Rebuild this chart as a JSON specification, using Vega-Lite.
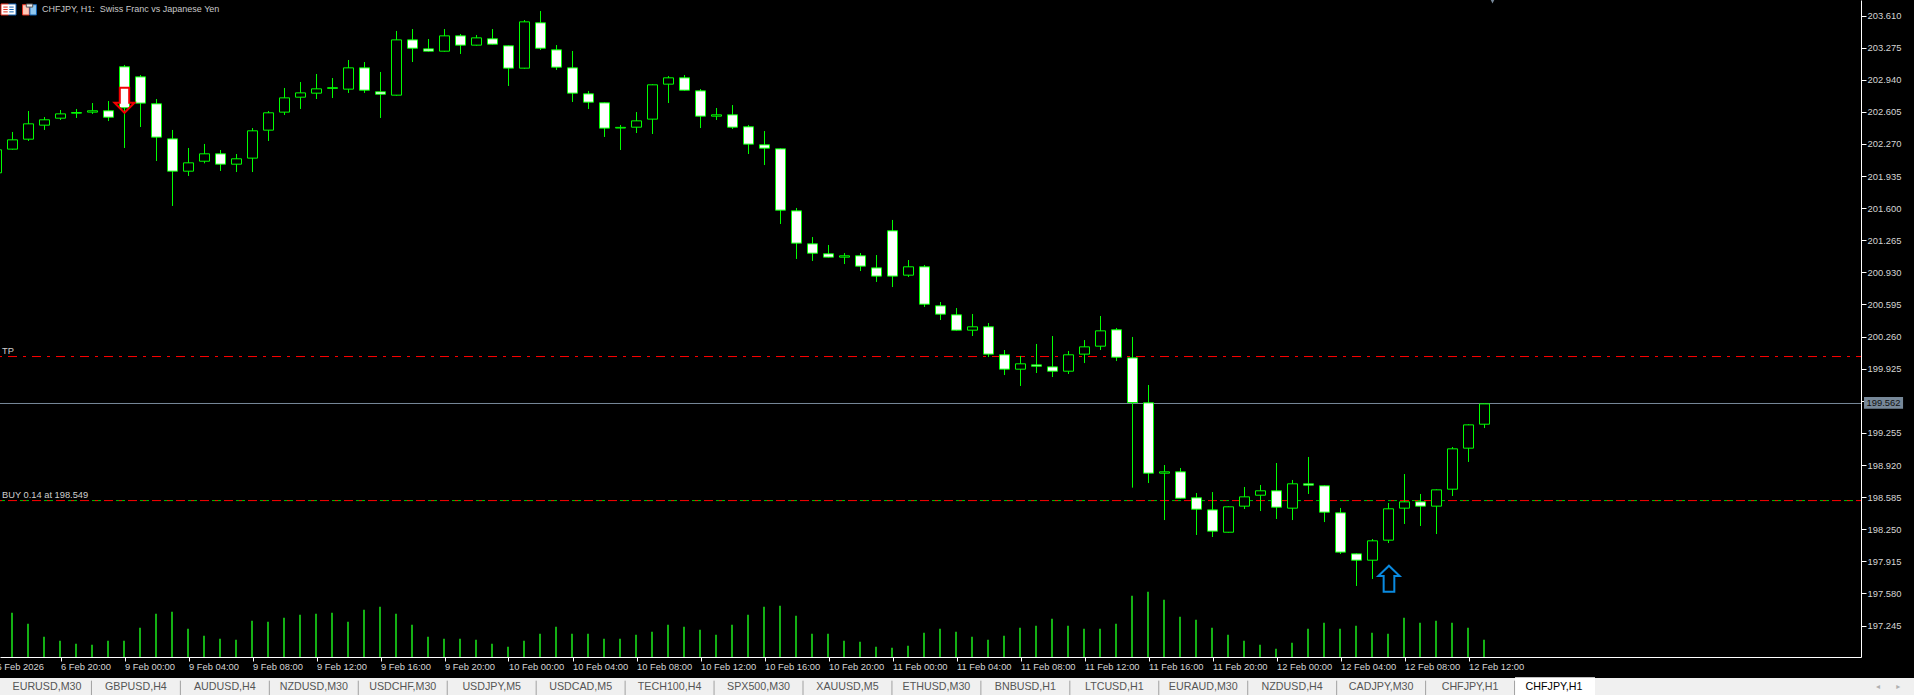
{"$schema":"https://vega.github.io/schema/vega-lite/v6.json","width":1861,"height":657,"autosize":"none","padding":{"left":0,"top":0,"right":53,"bottom":38},"background":"#000000","config":{"view":{"stroke":null},"font":"Liberation Sans"},
"datasets":{"candles":[
{"bar":-1,"open":201.969,"high":202.214,"low":201.963,"close":202.209},
{"bar":0,"open":202.216,"high":202.395,"low":202.21,"close":202.313,"vol":133},
{"bar":1,"open":202.32,"high":202.614,"low":202.301,"close":202.48,"vol":100},
{"bar":2,"open":202.466,"high":202.551,"low":202.416,"close":202.522,"vol":61},
{"bar":3,"open":202.539,"high":202.624,"low":202.52,"close":202.584,"vol":49},
{"bar":4,"open":202.591,"high":202.635,"low":202.541,"close":202.598,"vol":40},
{"bar":5,"open":202.602,"high":202.697,"low":202.583,"close":202.616,"vol":37},
{"bar":6,"open":202.616,"high":202.718,"low":202.509,"close":202.549,"vol":49},
{"bar":7,"open":203.075,"high":203.094,"low":202.228,"close":202.647,"vol":49},
{"bar":8,"open":202.97,"high":202.989,"low":202.447,"close":202.696,"vol":88},
{"bar":9,"open":202.689,"high":202.739,"low":202.092,"close":202.341,"vol":130},
{"bar":10,"open":202.323,"high":202.416,"low":201.623,"close":201.986,"vol":136},
{"bar":11,"open":201.986,"high":202.228,"low":201.936,"close":202.073,"vol":85},
{"bar":12,"open":202.09,"high":202.27,"low":202.068,"close":202.167,"vol":64},
{"bar":13,"open":202.167,"high":202.207,"low":201.988,"close":202.059,"vol":55},
{"bar":14,"open":202.059,"high":202.165,"low":201.977,"close":202.115,"vol":52},
{"bar":15,"open":202.122,"high":202.436,"low":201.977,"close":202.407,"vol":109},
{"bar":16,"open":202.414,"high":202.614,"low":202.301,"close":202.595,"vol":106},
{"bar":17,"open":202.602,"high":202.854,"low":202.572,"close":202.751,"vol":118},
{"bar":18,"open":202.758,"high":202.916,"low":202.635,"close":202.803,"vol":127},
{"bar":19,"open":202.8,"high":203.0,"low":202.739,"close":202.845,"vol":130},
{"bar":20,"open":202.85,"high":202.958,"low":202.749,"close":202.857,"vol":133},
{"bar":21,"open":202.842,"high":203.146,"low":202.802,"close":203.064,"vol":106},
{"bar":22,"open":203.064,"high":203.125,"low":202.802,"close":202.831,"vol":142},
{"bar":23,"open":202.814,"high":203.021,"low":202.541,"close":202.789,"vol":151},
{"bar":24,"open":202.779,"high":203.449,"low":202.774,"close":203.356,"vol":130},
{"bar":25,"open":203.356,"high":203.469,"low":203.125,"close":203.269,"vol":97},
{"bar":26,"open":203.262,"high":203.365,"low":203.233,"close":203.238,"vol":61},
{"bar":27,"open":203.238,"high":203.469,"low":203.233,"close":203.398,"vol":55},
{"bar":28,"open":203.398,"high":203.417,"low":203.209,"close":203.301,"vol":55},
{"bar":29,"open":203.301,"high":203.407,"low":203.296,"close":203.377,"vol":52},
{"bar":30,"open":203.367,"high":203.469,"low":203.306,"close":203.311,"vol":40},
{"bar":31,"open":203.294,"high":203.299,"low":202.875,"close":203.061,"vol":31},
{"bar":32,"open":203.061,"high":203.563,"low":203.056,"close":203.544,"vol":49},
{"bar":33,"open":203.534,"high":203.657,"low":203.25,"close":203.269,"vol":70},
{"bar":34,"open":203.252,"high":203.302,"low":203.042,"close":203.071,"vol":91},
{"bar":35,"open":203.064,"high":203.24,"low":202.708,"close":202.8,"vol":70},
{"bar":36,"open":202.793,"high":202.823,"low":202.635,"close":202.706,"vol":70},
{"bar":37,"open":202.699,"high":202.704,"low":202.343,"close":202.435,"vol":55},
{"bar":38,"open":202.436,"high":202.468,"low":202.207,"close":202.443,"vol":55},
{"bar":39,"open":202.445,"high":202.603,"low":202.384,"close":202.511,"vol":67},
{"bar":40,"open":202.529,"high":202.892,"low":202.374,"close":202.887,"vol":76},
{"bar":41,"open":202.894,"high":202.979,"low":202.697,"close":202.96,"vol":97},
{"bar":42,"open":202.96,"high":202.989,"low":202.826,"close":202.831,"vol":91},
{"bar":43,"open":202.824,"high":202.843,"low":202.436,"close":202.56,"vol":82},
{"bar":44,"open":202.56,"high":202.645,"low":202.52,"close":202.574,"vol":67},
{"bar":45,"open":202.574,"high":202.676,"low":202.426,"close":202.445,"vol":97},
{"bar":46,"open":202.449,"high":202.468,"low":202.165,"close":202.268,"vol":127},
{"bar":47,"open":202.261,"high":202.405,"low":202.05,"close":202.226,"vol":151},
{"bar":48,"open":202.219,"high":202.224,"low":201.435,"close":201.579,"vol":154},
{"bar":49,"open":201.572,"high":201.602,"low":201.07,"close":201.235,"vol":124},
{"bar":50,"open":201.228,"high":201.299,"low":201.049,"close":201.13,"vol":70},
{"bar":51,"open":201.124,"high":201.216,"low":201.084,"close":201.089,"vol":70},
{"bar":52,"open":201.089,"high":201.132,"low":201.017,"close":201.103,"vol":49},
{"bar":53,"open":201.103,"high":201.132,"low":200.944,"close":200.995,"vol":46},
{"bar":54,"open":200.977,"high":201.111,"low":200.83,"close":200.891,"vol":31},
{"bar":55,"open":201.364,"high":201.477,"low":200.777,"close":200.891,"vol":28},
{"bar":56,"open":200.901,"high":201.059,"low":200.882,"close":200.988,"vol":34},
{"bar":57,"open":200.988,"high":201.007,"low":200.569,"close":200.598,"vol":73},
{"bar":58,"open":200.581,"high":200.621,"low":200.433,"close":200.494,"vol":85},
{"bar":59,"open":200.487,"high":200.558,"low":200.322,"close":200.327,"vol":76},
{"bar":60,"open":200.327,"high":200.496,"low":200.266,"close":200.362,"vol":61},
{"bar":61,"open":200.362,"high":200.402,"low":200.047,"close":200.077,"vol":52},
{"bar":62,"open":200.07,"high":200.12,"low":199.859,"close":199.92,"vol":64},
{"bar":63,"open":199.92,"high":200.058,"low":199.745,"close":199.976,"vol":88},
{"bar":64,"open":199.965,"high":200.183,"low":199.88,"close":199.951,"vol":94},
{"bar":65,"open":199.944,"high":200.266,"low":199.838,"close":199.899,"vol":115},
{"bar":66,"open":199.899,"high":200.11,"low":199.87,"close":200.07,"vol":94},
{"bar":67,"open":200.077,"high":200.224,"low":199.984,"close":200.153,"vol":85},
{"bar":68,"open":200.16,"high":200.475,"low":200.12,"close":200.32,"vol":85},
{"bar":69,"open":200.331,"high":200.35,"low":200.005,"close":200.045,"vol":100},
{"bar":70,"open":200.038,"high":200.256,"low":198.684,"close":199.572,"vol":184},
{"bar":71,"open":199.569,"high":199.755,"low":198.732,"close":198.835,"vol":196},
{"bar":72,"open":198.835,"high":198.92,"low":198.346,"close":198.849,"vol":172},
{"bar":73,"open":198.849,"high":198.889,"low":198.569,"close":198.574,"vol":121},
{"bar":74,"open":198.578,"high":198.628,"low":198.19,"close":198.459,"vol":112},
{"bar":75,"open":198.452,"high":198.638,"low":198.169,"close":198.23,"vol":88},
{"bar":76,"open":198.219,"high":198.489,"low":198.214,"close":198.484,"vol":67},
{"bar":77,"open":198.491,"high":198.691,"low":198.461,"close":198.588,"vol":49},
{"bar":78,"open":198.605,"high":198.712,"low":198.44,"close":198.651,"vol":37},
{"bar":79,"open":198.651,"high":198.941,"low":198.357,"close":198.48,"vol":25},
{"bar":80,"open":198.47,"high":198.764,"low":198.346,"close":198.724,"vol":43},
{"bar":81,"open":198.724,"high":199.004,"low":198.618,"close":198.71,"vol":85},
{"bar":82,"open":198.703,"high":198.708,"low":198.325,"close":198.428,"vol":103},
{"bar":83,"open":198.421,"high":198.472,"low":197.992,"close":198.011,"vol":85},
{"bar":84,"open":197.993,"high":197.999,"low":197.658,"close":197.927,"vol":94},
{"bar":85,"open":197.927,"high":198.148,"low":197.731,"close":198.129,"vol":73},
{"bar":86,"open":198.136,"high":198.524,"low":198.106,"close":198.463,"vol":70},
{"bar":87,"open":198.47,"high":198.826,"low":198.305,"close":198.536,"vol":118},
{"bar":88,"open":198.536,"high":198.618,"low":198.284,"close":198.491,"vol":103},
{"bar":89,"open":198.491,"high":198.666,"low":198.2,"close":198.661,"vol":109},
{"bar":90,"open":198.668,"high":199.108,"low":198.597,"close":199.089,"vol":103},
{"bar":91,"open":199.096,"high":199.345,"low":198.952,"close":199.339,"vol":88},
{"bar":92,"open":199.346,"high":199.564,"low":199.306,"close":199.558,"vol":52}
],
"tabs":[
{"order":1,"tab":"EURUSD,M30"},{"order":2,"tab":"GBPUSD,H4"},{"order":3,"tab":"AUDUSD,H4"},{"order":4,"tab":"NZDUSD,M30"},{"order":5,"tab":"USDCHF,M30"},{"order":6,"tab":"USDJPY,M5"},{"order":7,"tab":"USDCAD,M5"},{"order":8,"tab":"TECH100,H4"},{"order":9,"tab":"SPX500,M30"},{"order":10,"tab":"XAUUSD,M5"},{"order":11,"tab":"ETHUSD,M30"},{"order":12,"tab":"BNBUSD,H1"},{"order":13,"tab":"LTCUSD,H1"},{"order":14,"tab":"EURAUD,M30"},{"order":15,"tab":"NZDUSD,H4"},{"order":16,"tab":"CADJPY,M30"},{"order":17,"tab":"CHFJPY,H1"},{"order":18,"tab":"CHFJPY,H1","active":true}
]},
"layer":[
{"data":{"name":"candles"},"mark":{"type":"bar","size":2,"orient":"vertical","color":"#14b014","xOffset":-0.5},
 "encoding":{"x":{"field":"bar","type":"quantitative","scale":{"domain":[-0.78125,115.53125],"nice":false,"zero":false,"padding":0},"axis":null},
 "y":{"field":"vol","type":"quantitative","scale":{"domain":[0,1971],"nice":false},"axis":null}}},
{"data":{"values":[{"price":199.562}]},"mark":{"type":"rule","color":"#778899","strokeWidth":1},"encoding":{"y":{"field":"price","type":"quantitative","scale":{"domain":[196.917,203.772],"nice":false,"zero":false},"axis":null}}},
{"data":{"values":[{"price":200.052}]},"mark":{"type":"rule","color":"#ff0000","strokeWidth":1,"strokeDash":[9,6,3,6],"strokeDashOffset":4},"encoding":{"y":{"field":"price","type":"quantitative","scale":{"domain":[196.917,203.772],"nice":false,"zero":false},"axis":null}}},
{"data":{"values":[{"price":198.549}]},"mark":{"type":"rule","color":"#00c000","strokeWidth":1,"strokeDash":[9,15],"strokeDashOffset":16},"encoding":{"y":{"field":"price","type":"quantitative","scale":{"domain":[196.917,203.772],"nice":false,"zero":false},"axis":null}}},
{"data":{"values":[{"price":198.549}]},"mark":{"type":"rule","color":"#ff0000","strokeWidth":1,"strokeDash":[9,6,3,6],"strokeDashOffset":4},"encoding":{"y":{"field":"price","type":"quantitative","scale":{"domain":[196.917,203.772],"nice":false,"zero":false},"axis":null}}},
{"data":{"name":"candles"},"mark":{"type":"rule","color":"#00ff00","strokeWidth":1},"encoding":{
  "x":{"field":"bar","type":"quantitative","scale":{"domain":[-0.78125,115.53125],"nice":false,"zero":false},
   "axis":{"title":null,"orient":"bottom","grid":false,"values":[3,7,11,15,19,23,27,31,35,39,43,47,51,55,59,63,67,71,75,79,83,87,91],
     "labelExpr":"['6 Feb 2026','6 Feb 20:00','9 Feb 00:00','9 Feb 04:00','9 Feb 08:00','9 Feb 12:00','9 Feb 16:00','9 Feb 20:00','10 Feb 00:00','10 Feb 04:00','10 Feb 08:00','10 Feb 12:00','10 Feb 16:00','10 Feb 20:00','11 Feb 00:00','11 Feb 04:00','11 Feb 08:00','11 Feb 12:00','11 Feb 16:00','11 Feb 20:00','12 Feb 00:00','12 Feb 04:00','12 Feb 08:00','12 Feb 12:00'][(datum.value+1)/4]",
     "labelAlign":"left","labelBaseline":"top","labelColor":"#d4d4d4","labelFont":"Liberation Sans","labelFontSize":9.4,"labelPadding":1,"labelOverlap":false,"labelFlush":false,"labelBound":false,"tickColor":"#ffffff","tickSize":4,"domainColor":"#ffffff","domainWidth":1}},
  "y":{"field":"high","type":"quantitative","scale":{"domain":[196.917,203.772],"nice":false,"zero":false},
   "axis":{"title":null,"orient":"right","grid":false,"values":[203.61,203.275,202.94,202.605,202.27,201.935,201.6,201.265,200.93,200.595,200.26,199.925,199.59,199.255,198.92,198.585,198.25,197.915,197.58,197.245],"format":".3f",
     "labelColor":"#d4d4d4","labelFont":"Liberation Sans","labelFontSize":9.4,"labelPadding":1,"labelOverlap":false,"labelFlush":false,"labelBound":false,"tickColor":"#ffffff","tickSize":5,"domainColor":"#ffffff","domainWidth":1}},
  "y2":{"field":"low"}}},
{"data":{"name":"candles"},"mark":{"type":"bar","size":10,"orient":"vertical","stroke":"#00ff00","strokeWidth":1},
 "encoding":{"x":{"field":"bar","type":"quantitative","scale":{"domain":[-0.78125,115.53125],"nice":false,"zero":false,"padding":0},"axis":null},
 "y":{"field":"open","type":"quantitative","scale":{"domain":[196.917,203.772],"nice":false,"zero":false},"axis":null},"y2":{"field":"close"},"fill":{"condition":{"test":"datum.close<datum.open","value":"#ffffff"},"value":"#000000"}}},
{"data":{"values":[{"label":"TP","price":200.052},{"label":"BUY 0.14 at 198.549","price":198.549}]},"mark":{"type":"text","align":"left","baseline":"middle","dy":-6,"color":"#cfcfcf","font":"Liberation Sans","fontSize":9.3},
 "encoding":{"x":{"datum":-0.656,"type":"quantitative","scale":{"domain":[-0.78125,115.53125],"nice":false,"zero":false},"axis":null},"y":{"field":"price","type":"quantitative","scale":{"domain":[196.917,203.772],"nice":false,"zero":false},"axis":null},"text":{"field":"label"}}},
{"data":{"values":[{"label":"CHFJPY, H1:\u00a0 Swiss Franc vs Japanese Yen","price":203.678}]},"mark":{"type":"text","align":"left","baseline":"middle","color":"#c8c8c8","font":"Liberation Sans","fontSize":9},
 "encoding":{"x":{"datum":1.84,"type":"quantitative","scale":{"domain":[-0.78125,115.53125],"nice":false,"zero":false},"axis":null},"y":{"field":"price","type":"quantitative","scale":{"domain":[196.917,203.772],"nice":false,"zero":false},"axis":null},"text":{"field":"label"}}},
{"data":{"values":[{"label":"6 Feb 2026","bar":-1,"price":196.816}]},"mark":{"type":"text","align":"left","baseline":"middle","color":"#d4d4d4","font":"Liberation Sans","fontSize":9.4},
 "encoding":{"x":{"field":"bar","type":"quantitative","scale":{"domain":[-0.78125,115.53125],"nice":false,"zero":false},"axis":null},"y":{"field":"price","type":"quantitative","scale":{"domain":[196.917,203.772],"nice":false,"zero":false},"axis":null},"text":{"field":"label"}}},
{"data":{"values":[{"bar":7,"price":202.726}]},"mark":{"type":"point","shape":"M-.376,-1 L.376,-1 L.376,.2 L.8,.2 L0,1 L-.8,.2 L-.376,.2 Z","size":625,"filled":false,"stroke":"#f00000","strokeWidth":2,"opacity":1},"encoding":{"x":{"field":"bar","type":"quantitative","scale":{"domain":[-0.78125,115.53125],"nice":false,"zero":false},"axis":null},"y":{"field":"price","type":"quantitative","scale":{"domain":[196.917,203.772],"nice":false,"zero":false},"axis":null}}},
{"data":{"values":[{"bar":86.03,"price":197.734}]},"mark":{"type":"point","shape":"M0,-1 L.82,-.2 L.41,-.2 L.41,1 L-.41,1 L-.41,-.2 L-.82,-.2 Z","size":676,"filled":false,"stroke":"#0a8ae0","strokeWidth":2,"opacity":1},"encoding":{"x":{"field":"bar","type":"quantitative","scale":{"domain":[-0.78125,115.53125],"nice":false,"zero":false},"axis":null},"y":{"field":"price","type":"quantitative","scale":{"domain":[196.917,203.772],"nice":false,"zero":false},"axis":null}}},
{"data":{"values":[{"bar":92.5,"price":203.772}]},"mark":{"type":"point","shape":"M-1,-1 L1,-1 L0,1 Z","size":49,"filled":true,"fill":"#778899","opacity":1},"encoding":{"x":{"field":"bar","type":"quantitative","scale":{"domain":[-0.78125,115.53125],"nice":false,"zero":false},"axis":null},"y":{"field":"price","type":"quantitative","scale":{"domain":[196.917,203.772],"nice":false,"zero":false},"axis":null}}},
{"data":{"values":[{"bar":-0.25,"price":203.673}]},"mark":{"type":"point","shape":"M-.94,-.69 L.94,-.69 L.94,.69 L-.94,.69 Z","size":256,"filled":true,"fill":"#ffffff","opacity":1},"encoding":{"x":{"field":"bar","type":"quantitative","scale":{"domain":[-0.78125,115.53125],"nice":false,"zero":false},"axis":null},"y":{"field":"price","type":"quantitative","scale":{"domain":[196.917,203.772],"nice":false,"zero":false},"axis":null}}},
{"data":{"values":[{"bar":-0.25,"price":203.673}]},"mark":{"type":"point","shape":"M0,-.69 L-.94,-.69 L-.94,.69 L0,.69 M-.65,-.3 L-.1,-.3 M-.65,0 L-.1,0 M-.65,.3 L-.1,.3","size":256,"filled":false,"stroke":"#e03020","strokeWidth":1,"opacity":1},"encoding":{"x":{"field":"bar","type":"quantitative","scale":{"domain":[-0.78125,115.53125],"nice":false,"zero":false},"axis":null},"y":{"field":"price","type":"quantitative","scale":{"domain":[196.917,203.772],"nice":false,"zero":false},"axis":null}}},
{"data":{"values":[{"bar":-0.25,"price":203.673}]},"mark":{"type":"point","shape":"M0,-.69 L.94,-.69 L.94,.69 L0,.69 M.1,-.3 L.65,-.3 M.1,0 L.65,0 M.1,.3 L.65,.3","size":256,"filled":false,"stroke":"#1060b0","strokeWidth":1,"opacity":1},"encoding":{"x":{"field":"bar","type":"quantitative","scale":{"domain":[-0.78125,115.53125],"nice":false,"zero":false},"axis":null},"y":{"field":"price","type":"quantitative","scale":{"domain":[196.917,203.772],"nice":false,"zero":false},"axis":null}}},
{"data":{"values":[{"bar":1.0625,"price":203.673}]},"mark":{"type":"point","shape":"M-.87,-.6 L-.02,-.6 L-.02,.69 L-.87,.69 Z","size":256,"filled":true,"fill":"#ffc8b8","stroke":"#e03020","strokeWidth":1,"opacity":1},"encoding":{"x":{"field":"bar","type":"quantitative","scale":{"domain":[-0.78125,115.53125],"nice":false,"zero":false},"axis":null},"y":{"field":"price","type":"quantitative","scale":{"domain":[196.917,203.772],"nice":false,"zero":false},"axis":null}}},
{"data":{"values":[{"bar":1.0625,"price":203.673}]},"mark":{"type":"point","shape":"M.05,-.6 L.87,-.6 L.87,.69 L.05,.69 Z","size":256,"filled":true,"fill":"#90c8f0","stroke":"#1060b0","strokeWidth":1,"opacity":1},"encoding":{"x":{"field":"bar","type":"quantitative","scale":{"domain":[-0.78125,115.53125],"nice":false,"zero":false},"axis":null},"y":{"field":"price","type":"quantitative","scale":{"domain":[196.917,203.772],"nice":false,"zero":false},"axis":null}}},
{"data":{"values":[{"bar":1.0625,"price":203.673}]},"mark":{"type":"point","shape":"M-.4,-.69 L.4,-.69 L.4,-.3 L-.4,-.3 Z","size":256,"filled":true,"fill":"#eeeeee","stroke":"#555555","strokeWidth":1,"opacity":1},"encoding":{"x":{"field":"bar","type":"quantitative","scale":{"domain":[-0.78125,115.53125],"nice":false,"zero":false},"axis":null},"y":{"field":"price","type":"quantitative","scale":{"domain":[196.917,203.772],"nice":false,"zero":false},"axis":null}}},
{"data":{"values":[{"label":"199.562"}]},"mark":{"type":"rect","fill":"#778899"},"encoding":{"x":{"datum":115.72,"type":"quantitative","scale":{"domain":[-0.78125,115.53125],"nice":false,"zero":false,"padding":0},"axis":null},"x2":{"datum":118.16},"y":{"datum":199.63,"type":"quantitative","scale":{"domain":[196.917,203.772],"nice":false,"zero":false,"padding":0},"axis":null},"y2":{"datum":199.508}}},
{"data":{"values":[{"label":"199.562","price":199.562}]},"mark":{"type":"text","align":"center","baseline":"middle","color":"#101010","font":"Liberation Sans","fontSize":9.4},"encoding":{"x":{"datum":116.94,"type":"quantitative","scale":{"domain":[-0.78125,115.53125],"nice":false,"zero":false},"axis":null},"y":{"field":"price","type":"quantitative","scale":{"domain":[196.917,203.772],"nice":false,"zero":false},"axis":null},"text":{"field":"label"}}},
{"data":{"values":[{"label":"strip"}]},"mark":{"type":"rect","fill":"#f0f0f0"},"encoding":{"x":{"datum":-0.78125,"type":"quantitative","scale":{"domain":[-0.78125,115.53125],"nice":false,"zero":false,"padding":0},"axis":null},"x2":{"datum":118.9},"y":{"datum":196.698,"type":"quantitative","scale":{"domain":[196.917,203.772],"nice":false,"zero":false,"padding":0},"axis":null},"y2":{"datum":196.5}}},
{"data":{"values":[{"bar":116.6,"label":"\u25c2"},{"bar":117.86,"label":"\u25b8"}]},"mark":{"type":"text","align":"center","baseline":"middle","color":"#b0b0b0","font":"DejaVu Sans","fontSize":8},"encoding":{"x":{"field":"bar","type":"quantitative","scale":{"domain":[-0.78125,115.53125],"nice":false,"zero":false},"axis":null},"y":{"datum":196.6,"type":"quantitative","scale":{"domain":[196.917,203.772],"nice":false,"zero":false},"axis":null},"text":{"field":"label"}}},
{"data":{"name":"tabs"},"transform":[{"filter":"datum.active===true"}],"mark":{"type":"rect","fill":"#ffffff","width":80,"xOffset":-4},"encoding":{"x":{"field":"order","type":"ordinal","scale":{"type":"band","domain":[1,2,3,4,5,6,7,8,9,10,11,12,13,14,15,16,17,18],"range":[2.5,1603.5],"paddingInner":0,"paddingOuter":0},"axis":null},"y":{"datum":196.705,"type":"quantitative","scale":{"domain":[196.917,203.772],"nice":false,"zero":false,"padding":0},"axis":null},"y2":{"datum":196.5}}},
{"data":{"name":"tabs"},"transform":[{"filter":"datum.active!==true"}],"mark":{"type":"rule","color":"#a0a0a0","strokeWidth":1},"encoding":{"x":{"field":"order","type":"ordinal","bandPosition":1,"scale":{"type":"band","domain":[1,2,3,4,5,6,7,8,9,10,11,12,13,14,15,16,17,18],"range":[2.5,1603.5],"paddingInner":0,"paddingOuter":0},"axis":null},"y":{"datum":196.67,"type":"quantitative","scale":{"domain":[196.917,203.772],"nice":false,"zero":false},"axis":null},"y2":{"datum":196.52}}},
{"data":{"name":"tabs"},"transform":[{"filter":"datum.active!==true"}],"mark":{"type":"text","align":"center","baseline":"middle","font":"Liberation Sans","fontSize":10.7,"color":"#555555"},"encoding":{"x":{"field":"order","type":"ordinal","scale":{"type":"band","domain":[1,2,3,4,5,6,7,8,9,10,11,12,13,14,15,16,17,18],"range":[2.5,1603.5],"paddingInner":0,"paddingOuter":0},"axis":null},"y":{"datum":196.6,"type":"quantitative","scale":{"domain":[196.917,203.772],"nice":false,"zero":false},"axis":null},"text":{"field":"tab"}}},
{"data":{"name":"tabs"},"transform":[{"filter":"datum.active===true"}],"mark":{"type":"text","align":"center","baseline":"middle","font":"Liberation Sans","fontSize":10.7,"color":"#000000","dx":-5},"encoding":{"x":{"field":"order","type":"ordinal","scale":{"type":"band","domain":[1,2,3,4,5,6,7,8,9,10,11,12,13,14,15,16,17,18],"range":[2.5,1603.5],"paddingInner":0,"paddingOuter":0},"axis":null},"y":{"datum":196.6,"type":"quantitative","scale":{"domain":[196.917,203.772],"nice":false,"zero":false},"axis":null},"text":{"field":"tab"}}}
],
"resolve":{"scale":{"x":"independent","y":"independent"},"axis":{"x":"independent","y":"independent"}}}
